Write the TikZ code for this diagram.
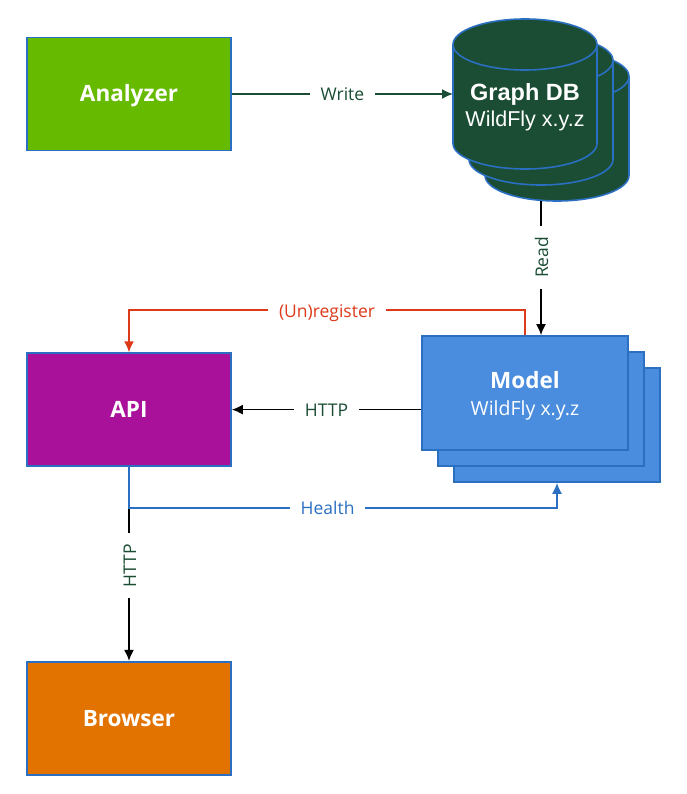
\documentclass[tikz,border=0pt]{standalone}
\usepackage{fontspec}
\setmainfont{Open Sans}
\newfontfamily\dbfont{Liberation Sans}
\usetikzlibrary{arrows.meta,positioning}

\definecolor{edgeblue}{HTML}{2B6FC2}
\definecolor{modelblue}{HTML}{4A8CDD}
\definecolor{dbgreen}{HTML}{1A4D33}
\definecolor{regred}{HTML}{DD3A1A}
\definecolor{analyzergreen}{HTML}{66BA00}
\definecolor{apipurple}{HTML}{A9119A}
\definecolor{browserorange}{HTML}{E37300}

\tikzset{
  block/.style={draw=edgeblue,line width=1.6pt,minimum width=204pt,minimum height=113pt,
    text=white,align=center,font=\fontsize{22.5}{26}\selectfont\bfseries},
  plainblock/.style={block,text height=21pt,text depth=5pt},
  modelbox/.style={block,fill=modelblue,minimum width=206pt,minimum height=114pt},
  dbslot/.style={minimum width=144pt,minimum height=150pt,inner sep=0pt,outer sep=0pt},
  dbtext/.style={text=white,align=center,font=\dbfont\fontsize{23.5}{27}\selectfont\bfseries},
  dbdrum/.pic={
    \draw[edgeblue,fill=dbgreen,line width=1.6pt] (-72,49.5) -- (-72,-49.5)
      arc[start angle=180,end angle=360,x radius=72,y radius=25.5] -- (72,49.5)
      arc[start angle=0,end angle=180,x radius=72,y radius=25.5];
    \draw[edgeblue,line width=1.6pt] (-72,49.5)
      arc[start angle=180,end angle=360,x radius=72,y radius=25.5];
  },
  stacked/.style={xshift=-16pt,yshift=16pt},
  lbl/.style={fill=white,inner xsep=11pt,inner ysep=2pt,text height=16pt,text depth=2pt,font=\fontsize{17.5}{20}\selectfont},
  tip/.style={-{Latex[length=11pt,width=10pt]},line width=1.6pt}
}

\begin{document}
\begin{tikzpicture}[x=1pt,y=1pt]
  \useasboundingbox (0,0) rectangle (686,-794);

  \node[plainblock,fill=analyzergreen] (analyzer) at (129,-94) {Analyzer};
  \node[plainblock,fill=apipurple]     (api)      [below=201pt of analyzer] {API};
  \node[plainblock,fill=browserorange] (browser)  [below=194pt of api]      {Browser};

  \node[dbslot] (dbC) at (557,-126) {};
  \node[dbslot,stacked] (dbB) at (dbC) {};
  \node[dbslot,stacked] (dbA) at (dbB) {};
  \pic at (dbC) {dbdrum};
  \pic at (dbB) {dbdrum};
  \pic at (dbA) {dbdrum};
  \node[dbtext,yshift=-13pt] (dbname) at (dbA) {Graph DB\\[-1pt]{\mdseries\fontsize{21.5}{25}\selectfont WildFly x.y.z}};

  \node[modelbox] (modelC) at (557,-425) {};
  \node[modelbox,stacked] (modelB) at (modelC) {};
  \node[modelbox,stacked] (modelA) at (modelB) {\rule{0pt}{23pt}Model\\[1pt]{\mdseries\fontsize{19.5}{23}\selectfont WildFly x.y.z}};

  \draw[tip,dbgreen] (analyzer.east) -- node[lbl] {Write} (analyzer.east -| dbA.west);
  \draw[tip,black] (dbB.south |- dbC.south) -- node[lbl,rotate=90,text=dbgreen,pos=.42] {Read} (modelB.south |- modelA.north);
  \draw[tip,black] (modelA.west |- api.east) -- node[lbl,text=dbgreen] {HTTP} (api.east);
  \draw[tip,black] (api) -- node[lbl,rotate=90,text=dbgreen,pos=.51] {HTTP} (browser);
  \draw[tip,regred] (modelA.north) -- ++(0,25) -| node[lbl,pos=.25] {(Un)register} (api.north);
  \draw[tip,edgeblue] (api.south) -- ++(0,-41) -| node[lbl,pos=.232] {Health} (modelC.south);
\end{tikzpicture}
\end{document}
